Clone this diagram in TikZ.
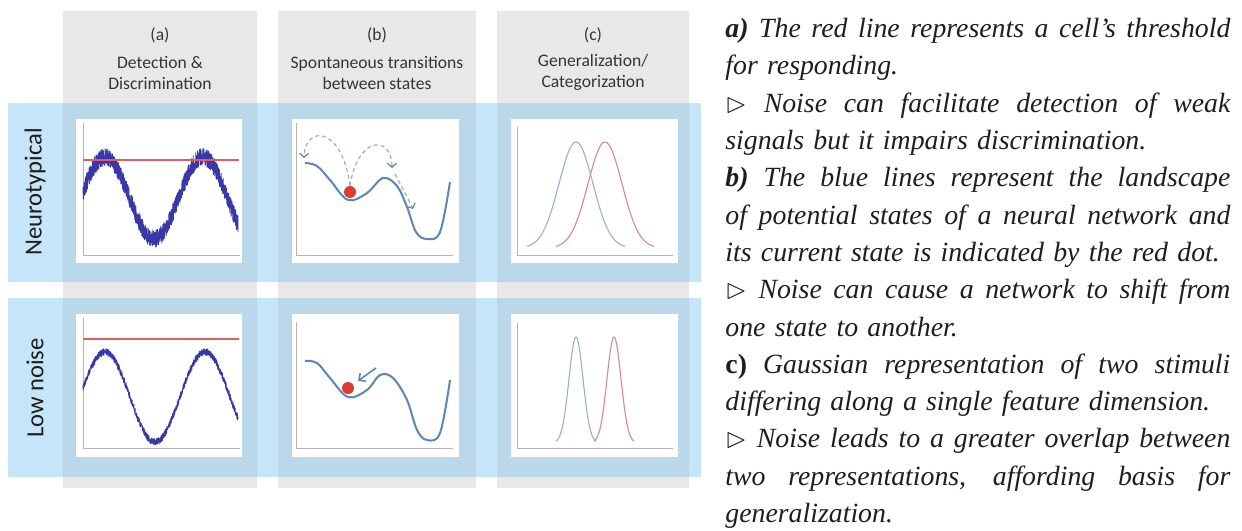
\documentclass[tikz,border=0pt]{standalone}
\usepackage{amssymb}
\usepackage{fontspec}
\setmainfont{Liberation Serif}
\newfontfamily\carlito{Carlito}
\usetikzlibrary{arrows.meta, positioning}
\definecolor{ink}{HTML}{1E1E1E}
\definecolor{colgray}{HTML}{E8E8E8}
\definecolor{rowblue}{HTML}{C4E6F8}
\definecolor{mixblue}{HTML}{BBD8EA}
\definecolor{axisgray}{HTML}{B4B4B4}
\definecolor{wave}{HTML}{3838A8}
\definecolor{thresh}{HTML}{E25E5E}
\definecolor{landblue}{HTML}{5A87B5}
\definecolor{hopgray}{HTML}{9DAEBF}
\definecolor{dotred}{HTML}{DD3B30}
\definecolor{gaussblue}{HTML}{93B3D3}
\definecolor{gaussred}{HTML}{D88A8A}
\newlength\notew
\setlength\notew{252.5pt}
\newcommand\jline[1]{\leavevmode\hbox to \notew{\spaceskip=0.25em plus 0.6em minus 0.08em\relax #1}}
\newcommand\tri{$\vartriangleright$}
\tikzset{
  hdr/.style={font=\carlito\fontsize{8.8}{10.5}\selectfont, text=ink!90,
              align=center, inner sep=0pt},
  rowlbl/.style={font=\carlito\fontsize{12.3}{14}\selectfont, text=ink,
                 rotate=90, inner sep=0pt},
  %
  panel/.style={fill=white},
  axisline/.style={draw=axisgray, line width=0.5pt},
  noisy/.style={draw=wave, line width=0.4pt, line join=round},
  threshold/.style={draw=thresh, line width=0.55pt},
  landscape/.style={draw=landblue, line width=1.0pt},
  state/.style={circle, fill=dotred, minimum size=6pt, inner sep=0pt},
  hop/.style={draw=hopgray, line width=0.6pt, dash pattern=on 2pt off 1.5pt,
              -{Straight Barb[length=2pt, width=4.5pt, color=landblue]}},
  nudge/.style={draw=landblue, line width=0.8pt,
                -{Straight Barb[length=2.5pt, width=5pt]}},
  gauss/.style={line width=0.55pt},
  %
  note/.style={font=\fontsize{13.9}{18.65}\selectfont\itshape, text=ink,
               align=left, inner sep=0pt, text width=\notew},
}

\begin{document}
\begin{tikzpicture}[x=0.5pt, y=-0.5pt]
\useasboundingbox (0,0) rectangle (1242,530);
\pgfmathsetseed{7}

% =========================================================================
% background: grey columns, blue rows
% =========================================================================
\fill[colgray] (63,11) rectangle (257,488);
\fill[colgray] (278,11) rectangle (476,488);
\fill[colgray] (497,11) rectangle (689,488);
\fill[rowblue] (8,103) rectangle (701,282);
\fill[rowblue] (8,298) rectangle (701,477);
\foreach \xa/\xb in {63/257, 278/476, 497/689}
  \foreach \ya/\yb in {103/282, 298/477}
    \fill[mixblue] (\xa,\ya) rectangle (\xb,\yb);

% headers
\node[hdr] (hA) at (160,35) {(a)};
\node[hdr] (tA) at (160,72.5) {Detection \&\\Discrimination};
\node[hdr] (hB) at (377,35) {(b)};
\node[hdr] (tB) at (377,72.5) {Spontaneous transitions\\between states};
\node[hdr] (hC) at (593,35) {(c)};
\node[hdr] (tC) at (593,72.5) {Generalization/\\Categorization};

\node[rowlbl] (rN) at (35,192) {Neurotypical};
\node[rowlbl] (rL) at (35,388) {Low noise};

% =========================================================================
% TOP ROW: neurotypical
% =========================================================================
\fill[panel] (76,119) rectangle (242,263);
\fill[panel] (292,119) rectangle (459,263);
\fill[panel] (511,119) rectangle (678,263);
\draw[axisline] (83,123) -- (83,255) -- (240,255);
\draw[axisline] (296,123) -- (296,255) -- (453,255);
\draw[axisline] (517,127) -- (517,255) -- (673,255);

\draw[noisy] plot[domain=83:238, samples=1400, variable=\t]
  (\t, {198 - 41*sin((\t-80.5)*3.6735) + 9*rand});
\draw[threshold] (83,160) -- (239,160);

\draw[landscape] plot[smooth, tension=0.6] coordinates {
  (305,163) (317,166) (330,180) (348,200) (367,193) (383,178) (397,186)
  (407,207) (416,232) (427,239) (440,232) (450,182)};
\node[state] (dotN) at (350,192) {};
\coordinate (lefthop) at (304,158);
\coordinate (righthop) at (392,168);
\coordinate (slopetop) at (395,174);
\coordinate (slopebot) at (413,209);
\draw[hop] (dotN.north) .. controls (342,125) and (305,125) .. (lefthop);
\draw[hop] (dotN.north) .. controls (358,135) and (392,135) .. (righthop);
\draw[hop] (slopetop) .. controls (401,186) and (408,198) .. (slopebot);

\draw[gauss, draw=gaussblue] plot[domain=527:625, samples=80]
  (\x, {248 - 106*exp(-((\x-576)^2)/578)});
\draw[gauss, draw=gaussred] plot[domain=556:654, samples=80]
  (\x, {248 - 106*exp(-((\x-605)^2)/578)});

% =========================================================================
% BOTTOM ROW: low noise
% =========================================================================
\fill[panel] (76,314) rectangle (242,457);
\fill[panel] (292,314) rectangle (459,457);
\fill[panel] (511,314) rectangle (678,457);
\draw[axisline] (83,318) -- (83,448) -- (240,448);
\draw[axisline] (296,322) -- (296,448) -- (453,448);
\draw[axisline] (517,323) -- (517,448) -- (673,448);

\draw[noisy] plot[domain=83:238, samples=1200, variable=\t]
  (\t, {397 - 45*sin((\t-80)*3.6) + 3.5*rand});
\draw[threshold] (83,339) -- (239,339);

\draw[landscape] plot[smooth, tension=0.6] coordinates {
  (305,361) (317,363) (330,378) (348,397) (367,390) (380,375) (393,378)
  (407,400) (417,430) (427,440) (440,433) (450,380)};
\node[state] (dotL) at (348,388) {};
\coordinate (nudgefrom) at (376,368);
\draw[nudge, shorten >=3pt] (nudgefrom) -- (dotL);

\draw[gauss, draw=gaussblue] plot[domain=556:596, samples=60]
  (\x, {443 - 106*exp(-((\x-576)^2)/98)});
\draw[gauss, draw=gaussred] plot[domain=594:634, samples=60]
  (\x, {443 - 106*exp(-((\x-614)^2)/98)});

% =========================================================================
% notes on the right
% =========================================================================
\node[note, anchor=north west] (notes) at (725,18) {%
  \jline{\textbf{a)} The red line represents a cell’s threshold}\\
  \mbox{for responding.}\\
  \jline{\tri{} Noise can facilitate detection of weak}\\
  \mbox{signals but it impairs discrimination.}\\
  \jline{\textbf{b)} The blue lines represent the landscape}\\
  \jline{of potential states of a neural network and}\\
  \mbox{its current state is indicated by the red dot.}\\
  \jline{\tri{} Noise can cause a network to shift from}\\
  \mbox{one state to another.}\\
  \jline{\textbf{\upshape c)} Gaussian representation of two stimuli}\\
  \mbox{differing along a single feature dimension.}\\
  \jline{\tri{} Noise leads to a greater overlap between}\\
  \jline{two representations, affording basis for}\\
  \mbox{generalization.}};

\end{tikzpicture}
\end{document}
